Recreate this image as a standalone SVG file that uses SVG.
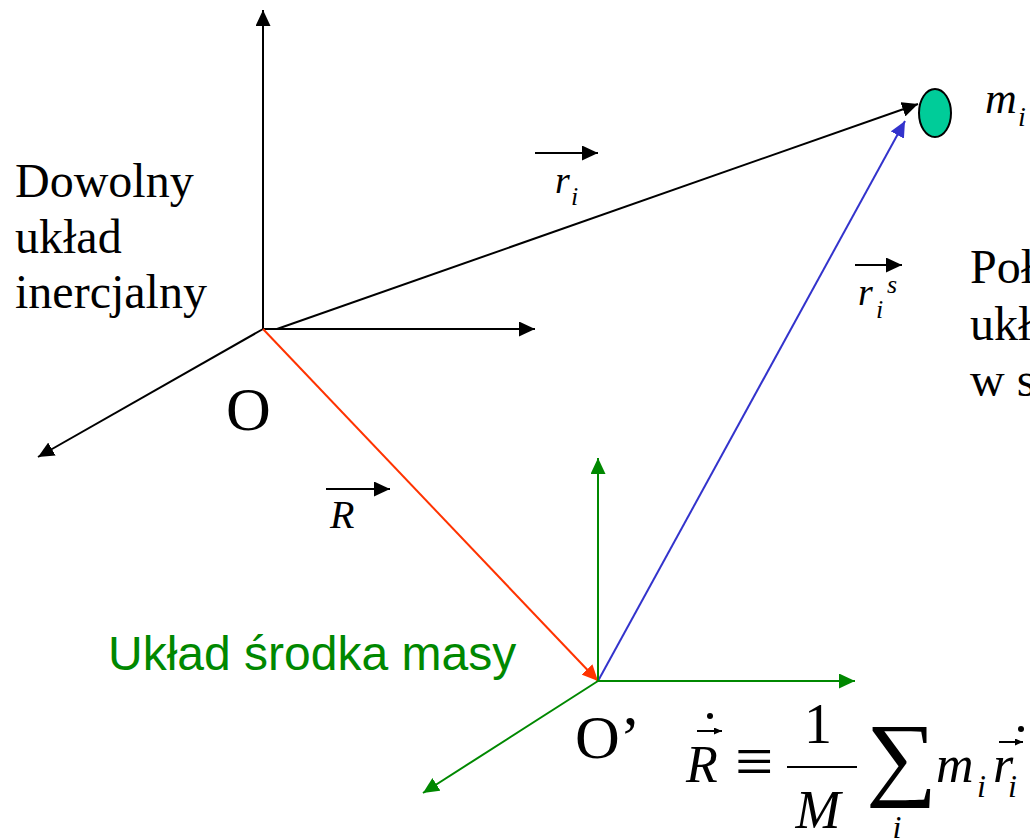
<svg xmlns="http://www.w3.org/2000/svg" width="1030" height="840" viewBox="0 0 1030 840">
<defs>
<marker id="ahK" markerUnits="userSpaceOnUse" markerWidth="16" markerHeight="15" refX="16" refY="7.5" orient="auto"><path d="M0,0 L16,7.5 L0,15 z" fill="#000"/></marker>
<marker id="ahR" markerUnits="userSpaceOnUse" markerWidth="16" markerHeight="15" refX="16" refY="7.5" orient="auto"><path d="M0,0 L16,7.5 L0,15 z" fill="#FF3300"/></marker>
<marker id="ahB" markerUnits="userSpaceOnUse" markerWidth="16" markerHeight="15" refX="16" refY="7.5" orient="auto"><path d="M0,0 L16,7.5 L0,15 z" fill="#3333CC"/></marker>
<marker id="ahG" markerUnits="userSpaceOnUse" markerWidth="16" markerHeight="15" refX="16" refY="7.5" orient="auto"><path d="M0,0 L16,7.5 L0,15 z" fill="#008800"/></marker>
<marker id="ahS" markerUnits="userSpaceOnUse" markerWidth="8" markerHeight="7" refX="8" refY="3.5" orient="auto"><path d="M0,0 L8,3.5 L0,7 z" fill="#000"/></marker>
</defs>
<style>
.k{stroke:#000;stroke-width:2;fill:none}
.serif{font-family:"Liberation Serif","Times New Roman",serif;fill:#000}
.it{font-style:italic}
.sans{font-family:"Liberation Sans",Arial,sans-serif}
</style>
<rect width="1030" height="840" fill="#fff"/>
<g id="connectors">
<line class="k" x1="263" y1="329" x2="263" y2="10" marker-end="url(#ahK)"/>
<line class="k" x1="263" y1="329" x2="535" y2="329" marker-end="url(#ahK)"/>
<line class="k" x1="263" y1="329" x2="38" y2="457" marker-end="url(#ahK)"/>
<line class="k" x1="277" y1="329" x2="918" y2="104" marker-end="url(#ahK)"/>
<line x1="263" y1="329" x2="598" y2="681" stroke="#FF3300" stroke-width="2" marker-end="url(#ahR)"/>
<line x1="598" y1="681" x2="905" y2="121" stroke="#3333CC" stroke-width="2" marker-end="url(#ahB)"/>
<line x1="598" y1="681" x2="598" y2="458" stroke="#008800" stroke-width="2" marker-end="url(#ahG)"/>
<line x1="598" y1="681" x2="855" y2="681" stroke="#008800" stroke-width="2" marker-end="url(#ahG)"/>
<line x1="598" y1="681" x2="423" y2="793" stroke="#008800" stroke-width="2" marker-end="url(#ahG)"/>
</g>
<g id="mass">
<ellipse cx="935" cy="113" rx="16" ry="24" fill="#00CC99" stroke="#000" stroke-width="2"/>
<text class="serif it" x="985" y="113" font-size="44">m</text>
<text class="serif it" x="1018" y="126" font-size="28">i</text>
</g>
<g id="inertial-label">
<text class="serif" font-size="48"><tspan x="15" y="197">Dowolny</tspan><tspan x="15" y="253">układ</tspan><tspan x="15" y="308">inercjalny</tspan></text>
</g>
<g id="origin-O"><text class="serif" x="226" y="430" font-size="62">O</text></g>
<g id="origin-O2"><text class="serif" x="575" y="758" font-size="62">O’</text></g>
<g id="cm-label"><text class="sans" x="108" y="670" font-size="48" fill="#008800">Układ środka masy</text></g>
<g id="right-label">
<text class="serif" font-size="48"><tspan x="970" y="283">Położenie</tspan><tspan x="970" y="340">układu</tspan><tspan x="970" y="396">w stosunku</tspan></text>
</g>
<g id="label-ri">
<line class="k" x1="535" y1="153" x2="598" y2="153" marker-end="url(#ahK)"/>
<text class="serif it" x="555" y="193" font-size="38">r</text>
<text class="serif it" x="571" y="205" font-size="26">i</text>
</g>
<g id="label-ris">
<line class="k" x1="855" y1="265" x2="902" y2="265" marker-end="url(#ahK)"/>
<text class="serif it" x="858" y="305" font-size="38">r</text>
<text class="serif it" x="876" y="318" font-size="26">i</text>
<text class="serif it" x="887" y="293" font-size="26">s</text>
</g>
<g id="label-R">
<line class="k" x1="326" y1="489" x2="390" y2="489" marker-end="url(#ahK)"/>
<text class="serif it" x="330" y="528" font-size="40">R</text>
</g>
<g id="formula">
<text class="serif it" x="686" y="782" font-size="52">R</text>
<line class="k" x1="697" y1="731" x2="722" y2="731" stroke-width="1.5" marker-end="url(#ahS)"/>
<circle cx="710" cy="716" r="3" fill="#000"/>
<text class="serif" x="735" y="784" font-size="68">≡</text>
<text class="serif" x="818" y="743" font-size="56" text-anchor="middle">1</text>
<line class="k" x1="787" y1="767" x2="857" y2="767" stroke-width="3"/>
<text class="serif it" x="818" y="828" font-size="54" text-anchor="middle">M</text>
<text class="serif" transform="translate(866,788) scale(1,0.93)" x="0" y="0" font-size="100">∑</text>
<text class="serif it" x="897" y="838" font-size="32" text-anchor="middle">i</text>
<text class="serif it" x="936" y="782" font-size="52">m</text>
<text class="serif it" x="977" y="797" font-size="32">i</text>
<text class="serif it" x="993" y="782" font-size="52">r</text>
<line class="k" x1="999" y1="742" x2="1023" y2="742" stroke-width="1.5" marker-end="url(#ahS)"/>
<circle cx="1021" cy="729" r="3" fill="#000"/>
<text class="serif it" x="1008" y="797" font-size="32">i</text>
</g>
</svg>
